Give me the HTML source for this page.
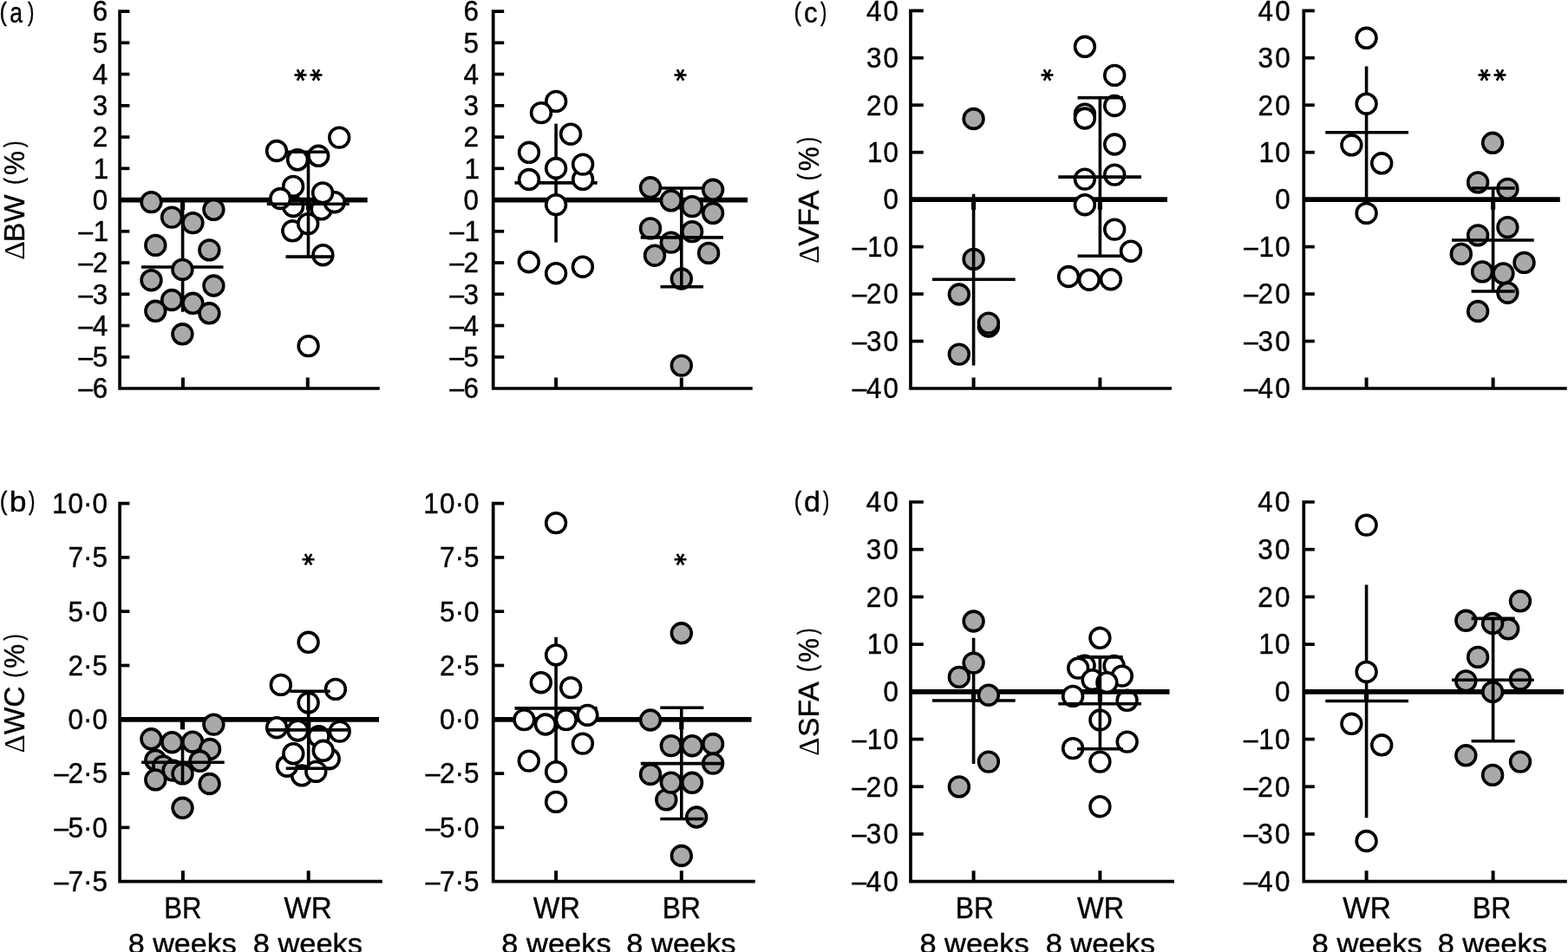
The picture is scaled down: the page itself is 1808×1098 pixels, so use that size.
<!DOCTYPE html>
<html lang="en"><head><meta charset="utf-8"><title>Figure</title>
<style>
html,body{margin:0;padding:0;background:#fff;}
body{width:1808px;height:1098px;overflow:hidden;}
svg{display:block;}
text{font-family:"Liberation Sans",sans-serif;fill:#000;stroke:#000;stroke-width:0.4px;}
.dl{font-family:"Liberation Serif",serif;stroke:none;}
.st{font-family:"DejaVu Sans","Liberation Sans",sans-serif;stroke-width:1.1px;}
.ln{stroke:#000;fill:none;}
.pt circle{stroke:#000;stroke-width:3.6;}
</style></head><body>
<svg width="1808" height="1098" viewBox="0 0 1808 1098">
<rect width="1808" height="1098" fill="#fff"/>
<g id="aL">
<g class="pt">
<circle cx="338.1" cy="238" r="11.4" fill="#fff"/>
<circle cx="370.6" cy="241.4" r="11.4" fill="#fff"/>
</g>
<g class="ln">
<line x1="138.1" y1="230.55" x2="423.7" y2="230.55" stroke-width="5.8"/>
<line x1="210.6" y1="230.55" x2="210.6" y2="242.15" stroke-width="5.2"/>
<line x1="355.5" y1="230.55" x2="355.5" y2="242.15" stroke-width="5.2"/>
</g>
<g class="ln">
<line x1="210.6" y1="231" x2="210.6" y2="359.7" stroke-width="3.6"/>
<line x1="163" y1="308" x2="257.5" y2="308" stroke-width="3.6"/>
</g>
<g class="pt">
<circle cx="174.5" cy="233.1" r="11.4" fill="#a9a9a9"/>
<circle cx="198.1" cy="250.6" r="11.4" fill="#a9a9a9"/>
<circle cx="222.4" cy="257.1" r="11.4" fill="#a9a9a9"/>
<circle cx="246.4" cy="241.8" r="11.4" fill="#a9a9a9"/>
<circle cx="179.3" cy="282.9" r="11.4" fill="#a9a9a9"/>
<circle cx="241.4" cy="288.4" r="11.4" fill="#a9a9a9"/>
<circle cx="210.4" cy="310.9" r="11.4" fill="#a9a9a9"/>
<circle cx="174.5" cy="323.2" r="11.4" fill="#a9a9a9"/>
<circle cx="246.4" cy="329.5" r="11.4" fill="#a9a9a9"/>
<circle cx="198.1" cy="346" r="11.4" fill="#a9a9a9"/>
<circle cx="222.4" cy="349.8" r="11.4" fill="#a9a9a9"/>
<circle cx="179.3" cy="358.8" r="11.4" fill="#a9a9a9"/>
<circle cx="241.4" cy="361.3" r="11.4" fill="#a9a9a9"/>
<circle cx="210.4" cy="385.3" r="11.4" fill="#a9a9a9"/>
</g>
<g class="pt">
<circle cx="391.2" cy="158.6" r="11.4" fill="#fff"/>
<circle cx="319" cy="174" r="11.4" fill="#fff"/>
<circle cx="343.1" cy="184.3" r="11.4" fill="#fff"/>
<circle cx="367.2" cy="179.8" r="11.4" fill="#fff"/>
<circle cx="338.1" cy="214.9" r="11.4" fill="#fff"/>
<circle cx="385.8" cy="233.2" r="11.4" fill="#fff"/>
<circle cx="372.1" cy="222.4" r="11.4" fill="#fff"/>
<circle cx="323.2" cy="229" r="11.4" fill="#fff"/>
<circle cx="337.3" cy="266.3" r="11.4" fill="#fff"/>
<circle cx="355.2" cy="258.1" r="11.4" fill="#fff"/>
<circle cx="372.4" cy="294.2" r="11.4" fill="#fff"/>
<circle cx="355.6" cy="399.1" r="11.4" fill="#fff"/>
</g>
<g class="ln">
<line x1="355.5" y1="175.2" x2="355.5" y2="296.1" stroke-width="3.6"/>
<line x1="307.8" y1="235.2" x2="402.8" y2="235.2" stroke-width="3.6"/>
<line x1="331.5" y1="175.2" x2="377.2" y2="175.2" stroke-width="3.6"/>
<line x1="329.5" y1="296.1" x2="383" y2="296.1" stroke-width="3.6"/>
</g>
<g class="ln">
<path d="M149.4 13.1 H138.1 V448 H437.8" stroke-width="3.7"/>
<line x1="138.1" y1="49.34" x2="149.4" y2="49.34" stroke-width="3.7"/>
<line x1="138.1" y1="85.58" x2="149.4" y2="85.58" stroke-width="3.7"/>
<line x1="138.1" y1="121.82" x2="149.4" y2="121.82" stroke-width="3.7"/>
<line x1="138.1" y1="158.07" x2="149.4" y2="158.07" stroke-width="3.7"/>
<line x1="138.1" y1="194.31" x2="149.4" y2="194.31" stroke-width="3.7"/>
<line x1="138.1" y1="230.55" x2="149.4" y2="230.55" stroke-width="3.7"/>
<line x1="138.1" y1="266.79" x2="149.4" y2="266.79" stroke-width="3.7"/>
<line x1="138.1" y1="303.03" x2="149.4" y2="303.03" stroke-width="3.7"/>
<line x1="138.1" y1="339.28" x2="149.4" y2="339.28" stroke-width="3.7"/>
<line x1="138.1" y1="375.52" x2="149.4" y2="375.52" stroke-width="3.7"/>
<line x1="138.1" y1="411.76" x2="149.4" y2="411.76" stroke-width="3.7"/>
<line x1="210.9" y1="448" x2="210.9" y2="435.5" stroke-width="4"/>
<line x1="354.8" y1="448" x2="354.8" y2="435.5" stroke-width="4"/>
</g>
<text font-size="32.6"><tspan x="106.69" y="24.4" textLength="17.51" lengthAdjust="spacingAndGlyphs">6</tspan></text>
<text font-size="32.6"><tspan x="106.69" y="60.64" textLength="17.51" lengthAdjust="spacingAndGlyphs">5</tspan></text>
<text font-size="32.6"><tspan x="106.69" y="96.88" textLength="17.51" lengthAdjust="spacingAndGlyphs">4</tspan></text>
<text font-size="32.6"><tspan x="106.69" y="133.12" textLength="17.51" lengthAdjust="spacingAndGlyphs">3</tspan></text>
<text font-size="32.6"><tspan x="106.69" y="169.37" textLength="17.51" lengthAdjust="spacingAndGlyphs">2</tspan></text>
<text font-size="32.6"><tspan x="107.69" y="205.61" textLength="17.51" lengthAdjust="spacingAndGlyphs">1</tspan></text>
<text font-size="32.6"><tspan x="106.69" y="241.85" textLength="17.51" lengthAdjust="spacingAndGlyphs">0</tspan></text>
<text font-size="32.6"><tspan x="88.58" y="280.09" textLength="19.99" lengthAdjust="spacingAndGlyphs">−</tspan><tspan x="107.69" y="278.09" textLength="17.51" lengthAdjust="spacingAndGlyphs">1</tspan></text>
<text font-size="32.6"><tspan x="88.58" y="316.33" textLength="19.99" lengthAdjust="spacingAndGlyphs">−</tspan><tspan x="106.69" y="314.33" textLength="17.51" lengthAdjust="spacingAndGlyphs">2</tspan></text>
<text font-size="32.6"><tspan x="88.58" y="352.58" textLength="19.99" lengthAdjust="spacingAndGlyphs">−</tspan><tspan x="106.69" y="350.58" textLength="17.51" lengthAdjust="spacingAndGlyphs">3</tspan></text>
<text font-size="32.6"><tspan x="88.58" y="388.82" textLength="19.99" lengthAdjust="spacingAndGlyphs">−</tspan><tspan x="106.69" y="386.82" textLength="17.51" lengthAdjust="spacingAndGlyphs">4</tspan></text>
<text font-size="32.6"><tspan x="88.58" y="425.06" textLength="19.99" lengthAdjust="spacingAndGlyphs">−</tspan><tspan x="106.69" y="423.06" textLength="17.51" lengthAdjust="spacingAndGlyphs">5</tspan></text>
<text font-size="32.6"><tspan x="88.58" y="461.3" textLength="19.99" lengthAdjust="spacingAndGlyphs">−</tspan><tspan x="106.69" y="459.3" textLength="17.51" lengthAdjust="spacingAndGlyphs">6</tspan></text>
<text transform="translate(0 25.9)"><tspan x="-0.38" y="-2.4" font-size="29.6" textLength="8.41" lengthAdjust="spacingAndGlyphs">(</tspan><tspan x="11.17" y="0" font-size="32.5" textLength="14.76" lengthAdjust="spacingAndGlyphs">a</tspan><tspan x="31.95" y="-2.4" font-size="29.6" textLength="7.4" lengthAdjust="spacingAndGlyphs">)</tspan></text>
<text transform="translate(27.9 0) rotate(-90)"><tspan class="dl" x="-299.66" y="0" font-size="33" textLength="21.8" lengthAdjust="spacingAndGlyphs">Δ</tspan><tspan x="-279.16" y="0" font-size="34" textLength="54.84" lengthAdjust="spacingAndGlyphs">BW</tspan><tspan x="-219" y="0" font-size="10"> </tspan><tspan x="-213.03" y="-2.3" font-size="29.6" textLength="8.05" lengthAdjust="spacingAndGlyphs">(</tspan><tspan x="-201.98" y="0" font-size="34" textLength="27.81" lengthAdjust="spacingAndGlyphs">%</tspan><tspan x="-170.1" y="-2.3" font-size="29.6" textLength="7.46" lengthAdjust="spacingAndGlyphs">)</tspan></text>
<text class="st" x="331.87 350.01" y="79.45" rotate="90" font-size="28">**</text>
</g>
<g id="aR">
<g class="ln">
<line x1="568.7" y1="230.55" x2="862" y2="230.55" stroke-width="5.8"/>
<line x1="641.1" y1="230.55" x2="641.1" y2="242.15" stroke-width="5.2"/>
<line x1="785.8" y1="230.55" x2="785.8" y2="242.15" stroke-width="5.2"/>
</g>
<g class="ln">
<line x1="641.1" y1="142.7" x2="641.1" y2="279.6" stroke-width="3.6"/>
<line x1="593.5" y1="210.9" x2="688.7" y2="210.9" stroke-width="3.6"/>
</g>
<g class="pt">
<circle cx="641.2" cy="116.9" r="11.4" fill="#fff"/>
<circle cx="624" cy="130.1" r="11.4" fill="#fff"/>
<circle cx="658.1" cy="154.7" r="11.4" fill="#fff"/>
<circle cx="610" cy="175.8" r="11.4" fill="#fff"/>
<circle cx="672.1" cy="206.9" r="11.4" fill="#fff"/>
<circle cx="672.1" cy="189.6" r="11.4" fill="#fff"/>
<circle cx="641.1" cy="194" r="11.4" fill="#fff"/>
<circle cx="610" cy="207" r="11.4" fill="#fff"/>
<circle cx="641.1" cy="236.1" r="11.4" fill="#fff"/>
<circle cx="609.8" cy="302.2" r="11.4" fill="#fff"/>
<circle cx="641.1" cy="315.2" r="11.4" fill="#fff"/>
<circle cx="671.9" cy="307.7" r="11.4" fill="#fff"/>
</g>
<g class="pt">
<circle cx="750" cy="216.3" r="11.4" fill="#a9a9a9"/>
<circle cx="822.1" cy="218.8" r="11.4" fill="#a9a9a9"/>
<circle cx="773.8" cy="231.3" r="11.4" fill="#a9a9a9"/>
<circle cx="798.1" cy="238.1" r="11.4" fill="#a9a9a9"/>
<circle cx="822.1" cy="245.8" r="11.4" fill="#a9a9a9"/>
<circle cx="750" cy="263.4" r="11.4" fill="#a9a9a9"/>
<circle cx="798.1" cy="267.1" r="11.4" fill="#a9a9a9"/>
<circle cx="773.8" cy="279.6" r="11.4" fill="#a9a9a9"/>
<circle cx="755" cy="294.7" r="11.4" fill="#a9a9a9"/>
<circle cx="817.1" cy="291.9" r="11.4" fill="#a9a9a9"/>
<circle cx="785.8" cy="321.5" r="11.4" fill="#a9a9a9"/>
<circle cx="785.8" cy="421.6" r="11.4" fill="#a9a9a9"/>
</g>
<g class="ln">
<line x1="785.8" y1="217" x2="785.8" y2="330.7" stroke-width="3.6"/>
<line x1="738.7" y1="273.9" x2="833.9" y2="273.9" stroke-width="3.6"/>
<line x1="761.5" y1="217" x2="811" y2="217" stroke-width="3.6"/>
<line x1="761.5" y1="330.7" x2="811" y2="330.7" stroke-width="3.6"/>
</g>
<g class="ln">
<path d="M581.2 13.1 H568.7 V448 H867.7" stroke-width="3.7"/>
<line x1="568.7" y1="49.34" x2="581.2" y2="49.34" stroke-width="3.7"/>
<line x1="568.7" y1="85.58" x2="581.2" y2="85.58" stroke-width="3.7"/>
<line x1="568.7" y1="121.82" x2="581.2" y2="121.82" stroke-width="3.7"/>
<line x1="568.7" y1="158.07" x2="581.2" y2="158.07" stroke-width="3.7"/>
<line x1="568.7" y1="194.31" x2="581.2" y2="194.31" stroke-width="3.7"/>
<line x1="568.7" y1="230.55" x2="581.2" y2="230.55" stroke-width="3.7"/>
<line x1="568.7" y1="266.79" x2="581.2" y2="266.79" stroke-width="3.7"/>
<line x1="568.7" y1="303.03" x2="581.2" y2="303.03" stroke-width="3.7"/>
<line x1="568.7" y1="339.28" x2="581.2" y2="339.28" stroke-width="3.7"/>
<line x1="568.7" y1="375.52" x2="581.2" y2="375.52" stroke-width="3.7"/>
<line x1="568.7" y1="411.76" x2="581.2" y2="411.76" stroke-width="3.7"/>
<line x1="641.1" y1="448" x2="641.1" y2="435.5" stroke-width="4"/>
<line x1="785.8" y1="448" x2="785.8" y2="435.5" stroke-width="4"/>
</g>
<text font-size="32.6"><tspan x="534.59" y="24.4" textLength="17.51" lengthAdjust="spacingAndGlyphs">6</tspan></text>
<text font-size="32.6"><tspan x="534.59" y="60.64" textLength="17.51" lengthAdjust="spacingAndGlyphs">5</tspan></text>
<text font-size="32.6"><tspan x="534.59" y="96.88" textLength="17.51" lengthAdjust="spacingAndGlyphs">4</tspan></text>
<text font-size="32.6"><tspan x="534.59" y="133.12" textLength="17.51" lengthAdjust="spacingAndGlyphs">3</tspan></text>
<text font-size="32.6"><tspan x="534.59" y="169.37" textLength="17.51" lengthAdjust="spacingAndGlyphs">2</tspan></text>
<text font-size="32.6"><tspan x="535.59" y="205.61" textLength="17.51" lengthAdjust="spacingAndGlyphs">1</tspan></text>
<text font-size="32.6"><tspan x="534.59" y="241.85" textLength="17.51" lengthAdjust="spacingAndGlyphs">0</tspan></text>
<text font-size="32.6"><tspan x="516.48" y="280.09" textLength="19.99" lengthAdjust="spacingAndGlyphs">−</tspan><tspan x="535.59" y="278.09" textLength="17.51" lengthAdjust="spacingAndGlyphs">1</tspan></text>
<text font-size="32.6"><tspan x="516.48" y="316.33" textLength="19.99" lengthAdjust="spacingAndGlyphs">−</tspan><tspan x="534.59" y="314.33" textLength="17.51" lengthAdjust="spacingAndGlyphs">2</tspan></text>
<text font-size="32.6"><tspan x="516.48" y="352.58" textLength="19.99" lengthAdjust="spacingAndGlyphs">−</tspan><tspan x="534.59" y="350.58" textLength="17.51" lengthAdjust="spacingAndGlyphs">3</tspan></text>
<text font-size="32.6"><tspan x="516.48" y="388.82" textLength="19.99" lengthAdjust="spacingAndGlyphs">−</tspan><tspan x="534.59" y="386.82" textLength="17.51" lengthAdjust="spacingAndGlyphs">4</tspan></text>
<text font-size="32.6"><tspan x="516.48" y="425.06" textLength="19.99" lengthAdjust="spacingAndGlyphs">−</tspan><tspan x="534.59" y="423.06" textLength="17.51" lengthAdjust="spacingAndGlyphs">5</tspan></text>
<text font-size="32.6"><tspan x="516.48" y="461.3" textLength="19.99" lengthAdjust="spacingAndGlyphs">−</tspan><tspan x="534.59" y="459.3" textLength="17.51" lengthAdjust="spacingAndGlyphs">6</tspan></text>
<text class="st" x="770.04" y="79.45" rotate="90" font-size="28">*</text>
</g>
<g id="cL">
<g class="ln">
<line x1="1050" y1="230.15" x2="1346" y2="230.15" stroke-width="5.8"/>
<line x1="1122.6" y1="230.15" x2="1122.6" y2="241.75" stroke-width="5.2"/>
<line x1="1268.4" y1="230.15" x2="1268.4" y2="241.75" stroke-width="5.2"/>
</g>
<g class="pt">
<circle cx="1122.6" cy="137" r="11.4" fill="#a9a9a9"/>
<circle cx="1122.6" cy="298.9" r="11.4" fill="#a9a9a9"/>
<circle cx="1105.9" cy="339.5" r="11.4" fill="#a9a9a9"/>
<circle cx="1139.9" cy="376.5" r="11.4" fill="#a9a9a9"/>
<circle cx="1139.9" cy="372.6" r="11.4" fill="#a9a9a9"/>
<circle cx="1105.9" cy="408.6" r="11.4" fill="#a9a9a9"/>
</g>
<g class="ln">
<line x1="1122.6" y1="223.8" x2="1122.6" y2="421.6" stroke-width="3.6"/>
<line x1="1075" y1="322.2" x2="1170.7" y2="322.2" stroke-width="3.6"/>
</g>
<g class="pt">
<circle cx="1250.9" cy="53.8" r="11.4" fill="#fff"/>
<circle cx="1285.2" cy="86.9" r="11.4" fill="#fff"/>
<circle cx="1285.2" cy="122" r="11.4" fill="#fff"/>
<circle cx="1250.9" cy="131.6" r="11.4" fill="#fff"/>
<circle cx="1250.9" cy="136.5" r="11.4" fill="#fff"/>
<circle cx="1285.2" cy="166.5" r="11.4" fill="#fff"/>
<circle cx="1250.9" cy="206.6" r="11.4" fill="#fff"/>
<circle cx="1285.2" cy="201.6" r="11.4" fill="#fff"/>
<circle cx="1250.9" cy="236.2" r="11.4" fill="#fff"/>
<circle cx="1285.2" cy="264.6" r="11.4" fill="#fff"/>
<circle cx="1304" cy="289.7" r="11.4" fill="#fff"/>
<circle cx="1232.1" cy="319" r="11.4" fill="#fff"/>
<circle cx="1255.9" cy="322.7" r="11.4" fill="#fff"/>
<circle cx="1280.9" cy="322.2" r="11.4" fill="#fff"/>
</g>
<g class="ln">
<line x1="1268.4" y1="112.7" x2="1268.4" y2="295.2" stroke-width="3.6"/>
<line x1="1220.3" y1="204.1" x2="1316" y2="204.1" stroke-width="3.6"/>
<line x1="1242.6" y1="112.7" x2="1295" y2="112.7" stroke-width="3.6"/>
<line x1="1242.6" y1="295.2" x2="1295" y2="295.2" stroke-width="3.6"/>
</g>
<g class="ln">
<path d="M1064.8 12.3 H1050 V448 H1351" stroke-width="3.7"/>
<line x1="1050" y1="66.76" x2="1064.8" y2="66.76" stroke-width="3.7"/>
<line x1="1050" y1="121.22" x2="1064.8" y2="121.22" stroke-width="3.7"/>
<line x1="1050" y1="175.69" x2="1064.8" y2="175.69" stroke-width="3.7"/>
<line x1="1050" y1="230.15" x2="1064.8" y2="230.15" stroke-width="3.7"/>
<line x1="1050" y1="284.61" x2="1064.8" y2="284.61" stroke-width="3.7"/>
<line x1="1050" y1="339.07" x2="1064.8" y2="339.07" stroke-width="3.7"/>
<line x1="1050" y1="393.54" x2="1064.8" y2="393.54" stroke-width="3.7"/>
<line x1="1122.6" y1="448" x2="1122.6" y2="435.5" stroke-width="4"/>
<line x1="1268.4" y1="448" x2="1268.4" y2="435.5" stroke-width="4"/>
</g>
<text font-size="32.6"><tspan x="998.89" y="23.6" textLength="17.51" lengthAdjust="spacingAndGlyphs">4</tspan><tspan x="1018.59" y="23.6" textLength="17.51" lengthAdjust="spacingAndGlyphs">0</tspan></text>
<text font-size="32.6"><tspan x="998.89" y="78.06" textLength="17.51" lengthAdjust="spacingAndGlyphs">3</tspan><tspan x="1018.59" y="78.06" textLength="17.51" lengthAdjust="spacingAndGlyphs">0</tspan></text>
<text font-size="32.6"><tspan x="998.89" y="132.53" textLength="17.51" lengthAdjust="spacingAndGlyphs">2</tspan><tspan x="1018.59" y="132.53" textLength="17.51" lengthAdjust="spacingAndGlyphs">0</tspan></text>
<text font-size="32.6"><tspan x="999.89" y="186.99" textLength="17.51" lengthAdjust="spacingAndGlyphs">1</tspan><tspan x="1018.59" y="186.99" textLength="17.51" lengthAdjust="spacingAndGlyphs">0</tspan></text>
<text font-size="32.6"><tspan x="1018.59" y="241.45" textLength="17.51" lengthAdjust="spacingAndGlyphs">0</tspan></text>
<text font-size="32.6"><tspan x="980.78" y="297.91" textLength="19.99" lengthAdjust="spacingAndGlyphs">−</tspan><tspan x="999.89" y="295.91" textLength="17.51" lengthAdjust="spacingAndGlyphs">1</tspan><tspan x="1018.59" y="295.91" textLength="17.51" lengthAdjust="spacingAndGlyphs">0</tspan></text>
<text font-size="32.6"><tspan x="980.78" y="352.38" textLength="19.99" lengthAdjust="spacingAndGlyphs">−</tspan><tspan x="998.89" y="350.38" textLength="17.51" lengthAdjust="spacingAndGlyphs">2</tspan><tspan x="1018.59" y="350.38" textLength="17.51" lengthAdjust="spacingAndGlyphs">0</tspan></text>
<text font-size="32.6"><tspan x="980.78" y="406.84" textLength="19.99" lengthAdjust="spacingAndGlyphs">−</tspan><tspan x="998.89" y="404.84" textLength="17.51" lengthAdjust="spacingAndGlyphs">3</tspan><tspan x="1018.59" y="404.84" textLength="17.51" lengthAdjust="spacingAndGlyphs">0</tspan></text>
<text font-size="32.6"><tspan x="980.78" y="461.3" textLength="19.99" lengthAdjust="spacingAndGlyphs">−</tspan><tspan x="998.89" y="459.3" textLength="17.51" lengthAdjust="spacingAndGlyphs">4</tspan><tspan x="1018.59" y="459.3" textLength="17.51" lengthAdjust="spacingAndGlyphs">0</tspan></text>
<text transform="translate(0 26)"><tspan x="915.62" y="-2.4" font-size="29.6" textLength="8.41" lengthAdjust="spacingAndGlyphs">(</tspan><tspan x="926.93" y="0" font-size="32.5" textLength="15.56" lengthAdjust="spacingAndGlyphs">c</tspan><tspan x="946" y="-2.4" font-size="29.6" textLength="7.34" lengthAdjust="spacingAndGlyphs">)</tspan></text>
<text transform="translate(943.6 0) rotate(-90)"><tspan class="dl" x="-304.12" y="0" font-size="33" textLength="21.02" lengthAdjust="spacingAndGlyphs">Δ</tspan><tspan x="-283.8" y="0" font-size="34" textLength="64.33" lengthAdjust="spacingAndGlyphs">VFA</tspan><tspan x="-214.3" y="0" font-size="10"> </tspan><tspan x="-208.33" y="-2.3" font-size="29.6" textLength="8.05" lengthAdjust="spacingAndGlyphs">(</tspan><tspan x="-197.28" y="0" font-size="34" textLength="27.81" lengthAdjust="spacingAndGlyphs">%</tspan><tspan x="-165.4" y="-2.3" font-size="29.6" textLength="7.46" lengthAdjust="spacingAndGlyphs">)</tspan></text>
<text class="st" x="1192.94" y="79.45" rotate="90" font-size="28">*</text>
</g>
<g id="cR">
<g class="ln">
<line x1="1503.3" y1="230.15" x2="1798.8" y2="230.15" stroke-width="5.8"/>
<line x1="1575.6" y1="230.15" x2="1575.6" y2="241.75" stroke-width="5.2"/>
<line x1="1721.6" y1="230.15" x2="1721.6" y2="241.75" stroke-width="5.2"/>
</g>
<g class="ln">
<line x1="1575.6" y1="76.4" x2="1575.6" y2="230" stroke-width="3.6"/>
<line x1="1528.3" y1="152.8" x2="1624" y2="152.8" stroke-width="3.6"/>
</g>
<g class="pt">
<circle cx="1575.6" cy="43.8" r="11.4" fill="#fff"/>
<circle cx="1575.6" cy="119.7" r="11.4" fill="#fff"/>
<circle cx="1558.4" cy="167.3" r="11.4" fill="#fff"/>
<circle cx="1593.2" cy="188.3" r="11.4" fill="#fff"/>
<circle cx="1575.6" cy="245.9" r="11.4" fill="#fff"/>
</g>
<g class="pt">
<circle cx="1721.1" cy="164.8" r="11.4" fill="#a9a9a9"/>
<circle cx="1704.1" cy="210.4" r="11.4" fill="#a9a9a9"/>
<circle cx="1738.4" cy="217.9" r="11.4" fill="#a9a9a9"/>
<circle cx="1738.4" cy="262.1" r="11.4" fill="#a9a9a9"/>
<circle cx="1704.1" cy="271.4" r="11.4" fill="#a9a9a9"/>
<circle cx="1684.8" cy="292.9" r="11.4" fill="#a9a9a9"/>
<circle cx="1757.5" cy="302.9" r="11.4" fill="#a9a9a9"/>
<circle cx="1709.1" cy="313.4" r="11.4" fill="#a9a9a9"/>
<circle cx="1738.4" cy="337.7" r="11.4" fill="#a9a9a9"/>
<circle cx="1733.4" cy="315.4" r="11.4" fill="#a9a9a9"/>
<circle cx="1704.1" cy="359" r="11.4" fill="#a9a9a9"/>
</g>
<g class="ln">
<line x1="1721.6" y1="217" x2="1721.6" y2="336" stroke-width="3.6"/>
<line x1="1674" y1="277" x2="1768.7" y2="277" stroke-width="3.6"/>
<line x1="1696.6" y1="217" x2="1746.7" y2="217" stroke-width="3.6"/>
<line x1="1696.6" y1="336" x2="1746.7" y2="336" stroke-width="3.6"/>
</g>
<g class="ln">
<path d="M1515.8 12.3 H1503.3 V448 H1806.8" stroke-width="3.7"/>
<line x1="1503.3" y1="66.76" x2="1515.8" y2="66.76" stroke-width="3.7"/>
<line x1="1503.3" y1="121.22" x2="1515.8" y2="121.22" stroke-width="3.7"/>
<line x1="1503.3" y1="175.69" x2="1515.8" y2="175.69" stroke-width="3.7"/>
<line x1="1503.3" y1="230.15" x2="1515.8" y2="230.15" stroke-width="3.7"/>
<line x1="1503.3" y1="284.61" x2="1515.8" y2="284.61" stroke-width="3.7"/>
<line x1="1503.3" y1="339.07" x2="1515.8" y2="339.07" stroke-width="3.7"/>
<line x1="1503.3" y1="393.54" x2="1515.8" y2="393.54" stroke-width="3.7"/>
<line x1="1575.6" y1="448" x2="1575.6" y2="435.5" stroke-width="4"/>
<line x1="1721.6" y1="448" x2="1721.6" y2="435.5" stroke-width="4"/>
</g>
<text font-size="32.6"><tspan x="1450.49" y="23.6" textLength="17.51" lengthAdjust="spacingAndGlyphs">4</tspan><tspan x="1470.19" y="23.6" textLength="17.51" lengthAdjust="spacingAndGlyphs">0</tspan></text>
<text font-size="32.6"><tspan x="1450.49" y="78.06" textLength="17.51" lengthAdjust="spacingAndGlyphs">3</tspan><tspan x="1470.19" y="78.06" textLength="17.51" lengthAdjust="spacingAndGlyphs">0</tspan></text>
<text font-size="32.6"><tspan x="1450.49" y="132.53" textLength="17.51" lengthAdjust="spacingAndGlyphs">2</tspan><tspan x="1470.19" y="132.53" textLength="17.51" lengthAdjust="spacingAndGlyphs">0</tspan></text>
<text font-size="32.6"><tspan x="1451.49" y="186.99" textLength="17.51" lengthAdjust="spacingAndGlyphs">1</tspan><tspan x="1470.19" y="186.99" textLength="17.51" lengthAdjust="spacingAndGlyphs">0</tspan></text>
<text font-size="32.6"><tspan x="1470.19" y="241.45" textLength="17.51" lengthAdjust="spacingAndGlyphs">0</tspan></text>
<text font-size="32.6"><tspan x="1432.38" y="297.91" textLength="19.99" lengthAdjust="spacingAndGlyphs">−</tspan><tspan x="1451.49" y="295.91" textLength="17.51" lengthAdjust="spacingAndGlyphs">1</tspan><tspan x="1470.19" y="295.91" textLength="17.51" lengthAdjust="spacingAndGlyphs">0</tspan></text>
<text font-size="32.6"><tspan x="1432.38" y="352.38" textLength="19.99" lengthAdjust="spacingAndGlyphs">−</tspan><tspan x="1450.49" y="350.38" textLength="17.51" lengthAdjust="spacingAndGlyphs">2</tspan><tspan x="1470.19" y="350.38" textLength="17.51" lengthAdjust="spacingAndGlyphs">0</tspan></text>
<text font-size="32.6"><tspan x="1432.38" y="406.84" textLength="19.99" lengthAdjust="spacingAndGlyphs">−</tspan><tspan x="1450.49" y="404.84" textLength="17.51" lengthAdjust="spacingAndGlyphs">3</tspan><tspan x="1470.19" y="404.84" textLength="17.51" lengthAdjust="spacingAndGlyphs">0</tspan></text>
<text font-size="32.6"><tspan x="1432.38" y="461.3" textLength="19.99" lengthAdjust="spacingAndGlyphs">−</tspan><tspan x="1450.49" y="459.3" textLength="17.51" lengthAdjust="spacingAndGlyphs">4</tspan><tspan x="1470.19" y="459.3" textLength="17.51" lengthAdjust="spacingAndGlyphs">0</tspan></text>
<text class="st" x="1696.87 1715.02" y="79.45" rotate="90" font-size="28">**</text>
</g>
<g id="bL">
<g class="ln">
<line x1="138.1" y1="829.8" x2="437" y2="829.8" stroke-width="5.8"/>
<line x1="210.5" y1="829.8" x2="210.5" y2="841.4" stroke-width="5.2"/>
<line x1="355.7" y1="829.8" x2="355.7" y2="841.4" stroke-width="5.2"/>
</g>
<g class="pt">
<circle cx="246.4" cy="835.6" r="11.4" fill="#a9a9a9"/>
<circle cx="174.4" cy="852.3" r="11.4" fill="#a9a9a9"/>
<circle cx="198.3" cy="856.2" r="11.4" fill="#a9a9a9"/>
<circle cx="222.1" cy="855.7" r="11.4" fill="#a9a9a9"/>
<circle cx="242.1" cy="864" r="11.4" fill="#a9a9a9"/>
<circle cx="179.3" cy="876.8" r="11.4" fill="#a9a9a9"/>
<circle cx="188.3" cy="883.6" r="11.4" fill="#a9a9a9"/>
<circle cx="230.5" cy="877.8" r="11.4" fill="#a9a9a9"/>
<circle cx="199.6" cy="888.6" r="11.4" fill="#a9a9a9"/>
<circle cx="210.5" cy="892.4" r="11.4" fill="#a9a9a9"/>
<circle cx="179.3" cy="899.4" r="11.4" fill="#a9a9a9"/>
<circle cx="241.6" cy="904" r="11.4" fill="#a9a9a9"/>
<circle cx="210.5" cy="931.8" r="11.4" fill="#a9a9a9"/>
</g>
<g class="ln">
<line x1="210.5" y1="855" x2="210.5" y2="903.5" stroke-width="3.6"/>
<line x1="163.1" y1="879.3" x2="258.7" y2="879.3" stroke-width="3.6"/>
</g>
<g class="pt">
<circle cx="355.6" cy="740.8" r="11.4" fill="#fff"/>
<circle cx="323.8" cy="789.9" r="11.4" fill="#fff"/>
<circle cx="386.9" cy="794.9" r="11.4" fill="#fff"/>
<circle cx="355.6" cy="810.5" r="11.4" fill="#fff"/>
<circle cx="319.1" cy="839.2" r="11.4" fill="#fff"/>
<circle cx="343.4" cy="842.5" r="11.4" fill="#fff"/>
<circle cx="391.7" cy="843.6" r="11.4" fill="#fff"/>
<circle cx="367.6" cy="849.3" r="11.4" fill="#fff"/>
<circle cx="348.1" cy="894.4" r="11.4" fill="#fff"/>
<circle cx="331" cy="883.7" r="11.4" fill="#fff"/>
<circle cx="338.3" cy="869.2" r="11.4" fill="#fff"/>
<circle cx="379.7" cy="875.2" r="11.4" fill="#fff"/>
<circle cx="372.7" cy="865.8" r="11.4" fill="#fff"/>
<circle cx="364.3" cy="889.9" r="11.4" fill="#fff"/>
</g>
<g class="ln">
<line x1="355.7" y1="797.2" x2="355.7" y2="886.2" stroke-width="3.6"/>
<line x1="308.5" y1="841.9" x2="401.5" y2="841.9" stroke-width="3.6"/>
<line x1="334.3" y1="797.2" x2="380.7" y2="797.2" stroke-width="3.6"/>
<line x1="329.8" y1="886.2" x2="383" y2="886.2" stroke-width="3.6"/>
</g>
<g class="ln">
<path d="M149.4 580.6 H138.1 V1016.7 H440.8" stroke-width="3.7"/>
<line x1="138.1" y1="642.9" x2="149.4" y2="642.9" stroke-width="3.7"/>
<line x1="138.1" y1="705.2" x2="149.4" y2="705.2" stroke-width="3.7"/>
<line x1="138.1" y1="767.5" x2="149.4" y2="767.5" stroke-width="3.7"/>
<line x1="138.1" y1="829.8" x2="149.4" y2="829.8" stroke-width="3.7"/>
<line x1="138.1" y1="892.1" x2="149.4" y2="892.1" stroke-width="3.7"/>
<line x1="138.1" y1="954.4" x2="149.4" y2="954.4" stroke-width="3.7"/>
<line x1="210.9" y1="1016.7" x2="210.9" y2="1004.2" stroke-width="4"/>
<line x1="355.7" y1="1016.7" x2="355.7" y2="1004.2" stroke-width="4"/>
</g>
<text font-size="32.6"><tspan x="59.89" y="591.9" textLength="17.51" lengthAdjust="spacingAndGlyphs">1</tspan><tspan x="78.59" y="591.9" textLength="17.51" lengthAdjust="spacingAndGlyphs">0</tspan><tspan x="96.11" y="590.9" textLength="10.49" lengthAdjust="spacingAndGlyphs">·</tspan><tspan x="106.59" y="591.9" textLength="17.51" lengthAdjust="spacingAndGlyphs">0</tspan></text>
<text font-size="32.6"><tspan x="78.59" y="654.2" textLength="17.51" lengthAdjust="spacingAndGlyphs">7</tspan><tspan x="96.11" y="653.2" textLength="10.49" lengthAdjust="spacingAndGlyphs">·</tspan><tspan x="106.59" y="654.2" textLength="17.51" lengthAdjust="spacingAndGlyphs">5</tspan></text>
<text font-size="32.6"><tspan x="78.59" y="716.5" textLength="17.51" lengthAdjust="spacingAndGlyphs">5</tspan><tspan x="96.11" y="715.5" textLength="10.49" lengthAdjust="spacingAndGlyphs">·</tspan><tspan x="106.59" y="716.5" textLength="17.51" lengthAdjust="spacingAndGlyphs">0</tspan></text>
<text font-size="32.6"><tspan x="78.59" y="778.8" textLength="17.51" lengthAdjust="spacingAndGlyphs">2</tspan><tspan x="96.11" y="777.8" textLength="10.49" lengthAdjust="spacingAndGlyphs">·</tspan><tspan x="106.59" y="778.8" textLength="17.51" lengthAdjust="spacingAndGlyphs">5</tspan></text>
<text font-size="32.6"><tspan x="78.59" y="841.1" textLength="17.51" lengthAdjust="spacingAndGlyphs">0</tspan><tspan x="96.11" y="840.1" textLength="10.49" lengthAdjust="spacingAndGlyphs">·</tspan><tspan x="106.59" y="841.1" textLength="17.51" lengthAdjust="spacingAndGlyphs">0</tspan></text>
<text font-size="32.6"><tspan x="60.48" y="905.4" textLength="19.99" lengthAdjust="spacingAndGlyphs">−</tspan><tspan x="78.59" y="903.4" textLength="17.51" lengthAdjust="spacingAndGlyphs">2</tspan><tspan x="96.11" y="902.4" textLength="10.49" lengthAdjust="spacingAndGlyphs">·</tspan><tspan x="106.59" y="903.4" textLength="17.51" lengthAdjust="spacingAndGlyphs">5</tspan></text>
<text font-size="32.6"><tspan x="60.48" y="967.7" textLength="19.99" lengthAdjust="spacingAndGlyphs">−</tspan><tspan x="78.59" y="965.7" textLength="17.51" lengthAdjust="spacingAndGlyphs">5</tspan><tspan x="96.11" y="964.7" textLength="10.49" lengthAdjust="spacingAndGlyphs">·</tspan><tspan x="106.59" y="965.7" textLength="17.51" lengthAdjust="spacingAndGlyphs">0</tspan></text>
<text font-size="32.6"><tspan x="60.48" y="1030" textLength="19.99" lengthAdjust="spacingAndGlyphs">−</tspan><tspan x="78.59" y="1028" textLength="17.51" lengthAdjust="spacingAndGlyphs">7</tspan><tspan x="96.11" y="1027" textLength="10.49" lengthAdjust="spacingAndGlyphs">·</tspan><tspan x="106.59" y="1028" textLength="17.51" lengthAdjust="spacingAndGlyphs">5</tspan></text>
<text transform="translate(0 590.1)"><tspan x="-0.32" y="-2.4" font-size="29.6" textLength="8.64" lengthAdjust="spacingAndGlyphs">(</tspan><tspan x="10.78" y="0" font-size="32.5" textLength="19.76" lengthAdjust="spacingAndGlyphs">b</tspan><tspan x="32.9" y="-2.4" font-size="29.6" textLength="7.46" lengthAdjust="spacingAndGlyphs">)</tspan></text>
<text transform="translate(27.8 0) rotate(-90)"><tspan class="dl" x="-868.53" y="0" font-size="33" textLength="21.13" lengthAdjust="spacingAndGlyphs">Δ</tspan><tspan x="-847.3" y="0" font-size="34" textLength="55.76" lengthAdjust="spacingAndGlyphs">WC</tspan><tspan x="-787.7" y="0" font-size="10"> </tspan><tspan x="-781.73" y="-2.3" font-size="29.6" textLength="8.05" lengthAdjust="spacingAndGlyphs">(</tspan><tspan x="-770.68" y="0" font-size="34" textLength="27.81" lengthAdjust="spacingAndGlyphs">%</tspan><tspan x="-738.8" y="-2.3" font-size="29.6" textLength="7.46" lengthAdjust="spacingAndGlyphs">)</tspan></text>
<text class="st" x="341.04" y="638.2" rotate="90" font-size="28">*</text>
<text transform="translate(189.21 1059) scale(0.9 1)" font-size="34.5">BR</text>
<text transform="translate(147.73 1099.6) scale(1.04 1)" font-size="32.8">8 weeks</text>
<text transform="translate(327.5 1059) scale(0.96 1)" font-size="34.5">WR</text>
<text transform="translate(291.72 1099.6) scale(1.05 1)" font-size="32.8">8 weeks</text>
</g>
<g id="bR">
<g class="ln">
<line x1="568.7" y1="829.8" x2="866.5" y2="829.8" stroke-width="5.8"/>
<line x1="641.1" y1="829.8" x2="641.1" y2="841.4" stroke-width="5.2"/>
<line x1="785.8" y1="829.8" x2="785.8" y2="841.4" stroke-width="5.2"/>
</g>
<g class="ln">
<line x1="641.1" y1="734.8" x2="641.1" y2="896" stroke-width="3.6"/>
<line x1="593.5" y1="816.9" x2="688.7" y2="816.9" stroke-width="3.6"/>
</g>
<g class="pt">
<circle cx="641.1" cy="603.1" r="11.4" fill="#fff"/>
<circle cx="641.1" cy="755.4" r="11.4" fill="#fff"/>
<circle cx="623.8" cy="787.2" r="11.4" fill="#fff"/>
<circle cx="658.2" cy="793.1" r="11.4" fill="#fff"/>
<circle cx="604.4" cy="830.1" r="11.4" fill="#fff"/>
<circle cx="628.9" cy="835.5" r="11.4" fill="#fff"/>
<circle cx="652.8" cy="830.1" r="11.4" fill="#fff"/>
<circle cx="677.4" cy="824.9" r="11.4" fill="#fff"/>
<circle cx="671.9" cy="857.6" r="11.4" fill="#fff"/>
<circle cx="609.8" cy="877.6" r="11.4" fill="#fff"/>
<circle cx="641.1" cy="890.1" r="11.4" fill="#fff"/>
<circle cx="641.1" cy="924.9" r="11.4" fill="#fff"/>
</g>
<g class="pt">
<circle cx="785.8" cy="730.3" r="11.4" fill="#a9a9a9"/>
<circle cx="750" cy="830.5" r="11.4" fill="#a9a9a9"/>
<circle cx="773.8" cy="860.1" r="11.4" fill="#a9a9a9"/>
<circle cx="798.1" cy="860.2" r="11.4" fill="#a9a9a9"/>
<circle cx="822.1" cy="858" r="11.4" fill="#a9a9a9"/>
<circle cx="822.1" cy="880.6" r="11.4" fill="#a9a9a9"/>
<circle cx="750" cy="893" r="11.4" fill="#a9a9a9"/>
<circle cx="768.3" cy="922.4" r="11.4" fill="#a9a9a9"/>
<circle cx="773.8" cy="902.6" r="11.4" fill="#a9a9a9"/>
<circle cx="798.1" cy="902.8" r="11.4" fill="#a9a9a9"/>
<circle cx="803.1" cy="942.5" r="11.4" fill="#a9a9a9"/>
<circle cx="785.8" cy="987" r="11.4" fill="#a9a9a9"/>
</g>
<g class="ln">
<line x1="785.8" y1="816.2" x2="785.8" y2="944.5" stroke-width="3.6"/>
<line x1="738.8" y1="880.6" x2="834" y2="880.6" stroke-width="3.6"/>
<line x1="761.3" y1="816.2" x2="811.4" y2="816.2" stroke-width="3.6"/>
<line x1="761.3" y1="944.5" x2="811.4" y2="944.5" stroke-width="3.6"/>
</g>
<g class="ln">
<path d="M581.2 580.6 H568.7 V1016.7 H870.7" stroke-width="3.7"/>
<line x1="568.7" y1="642.9" x2="581.2" y2="642.9" stroke-width="3.7"/>
<line x1="568.7" y1="705.2" x2="581.2" y2="705.2" stroke-width="3.7"/>
<line x1="568.7" y1="767.5" x2="581.2" y2="767.5" stroke-width="3.7"/>
<line x1="568.7" y1="829.8" x2="581.2" y2="829.8" stroke-width="3.7"/>
<line x1="568.7" y1="892.1" x2="581.2" y2="892.1" stroke-width="3.7"/>
<line x1="568.7" y1="954.4" x2="581.2" y2="954.4" stroke-width="3.7"/>
<line x1="641.1" y1="1016.7" x2="641.1" y2="1004.2" stroke-width="4"/>
<line x1="785.8" y1="1016.7" x2="785.8" y2="1004.2" stroke-width="4"/>
</g>
<text font-size="32.6"><tspan x="488.29" y="591.9" textLength="17.51" lengthAdjust="spacingAndGlyphs">1</tspan><tspan x="506.99" y="591.9" textLength="17.51" lengthAdjust="spacingAndGlyphs">0</tspan><tspan x="524.51" y="590.9" textLength="10.49" lengthAdjust="spacingAndGlyphs">·</tspan><tspan x="534.99" y="591.9" textLength="17.51" lengthAdjust="spacingAndGlyphs">0</tspan></text>
<text font-size="32.6"><tspan x="506.99" y="654.2" textLength="17.51" lengthAdjust="spacingAndGlyphs">7</tspan><tspan x="524.51" y="653.2" textLength="10.49" lengthAdjust="spacingAndGlyphs">·</tspan><tspan x="534.99" y="654.2" textLength="17.51" lengthAdjust="spacingAndGlyphs">5</tspan></text>
<text font-size="32.6"><tspan x="506.99" y="716.5" textLength="17.51" lengthAdjust="spacingAndGlyphs">5</tspan><tspan x="524.51" y="715.5" textLength="10.49" lengthAdjust="spacingAndGlyphs">·</tspan><tspan x="534.99" y="716.5" textLength="17.51" lengthAdjust="spacingAndGlyphs">0</tspan></text>
<text font-size="32.6"><tspan x="506.99" y="778.8" textLength="17.51" lengthAdjust="spacingAndGlyphs">2</tspan><tspan x="524.51" y="777.8" textLength="10.49" lengthAdjust="spacingAndGlyphs">·</tspan><tspan x="534.99" y="778.8" textLength="17.51" lengthAdjust="spacingAndGlyphs">5</tspan></text>
<text font-size="32.6"><tspan x="506.99" y="841.1" textLength="17.51" lengthAdjust="spacingAndGlyphs">0</tspan><tspan x="524.51" y="840.1" textLength="10.49" lengthAdjust="spacingAndGlyphs">·</tspan><tspan x="534.99" y="841.1" textLength="17.51" lengthAdjust="spacingAndGlyphs">0</tspan></text>
<text font-size="32.6"><tspan x="488.88" y="905.4" textLength="19.99" lengthAdjust="spacingAndGlyphs">−</tspan><tspan x="506.99" y="903.4" textLength="17.51" lengthAdjust="spacingAndGlyphs">2</tspan><tspan x="524.51" y="902.4" textLength="10.49" lengthAdjust="spacingAndGlyphs">·</tspan><tspan x="534.99" y="903.4" textLength="17.51" lengthAdjust="spacingAndGlyphs">5</tspan></text>
<text font-size="32.6"><tspan x="488.88" y="967.7" textLength="19.99" lengthAdjust="spacingAndGlyphs">−</tspan><tspan x="506.99" y="965.7" textLength="17.51" lengthAdjust="spacingAndGlyphs">5</tspan><tspan x="524.51" y="964.7" textLength="10.49" lengthAdjust="spacingAndGlyphs">·</tspan><tspan x="534.99" y="965.7" textLength="17.51" lengthAdjust="spacingAndGlyphs">0</tspan></text>
<text font-size="32.6"><tspan x="488.88" y="1030" textLength="19.99" lengthAdjust="spacingAndGlyphs">−</tspan><tspan x="506.99" y="1028" textLength="17.51" lengthAdjust="spacingAndGlyphs">7</tspan><tspan x="524.51" y="1027" textLength="10.49" lengthAdjust="spacingAndGlyphs">·</tspan><tspan x="534.99" y="1028" textLength="17.51" lengthAdjust="spacingAndGlyphs">5</tspan></text>
<text class="st" x="770.04" y="638.2" rotate="90" font-size="28">*</text>
<text transform="translate(614.8 1059) scale(0.94 1)" font-size="34.5">WR</text>
<text transform="translate(578.33 1099.6) scale(1.05 1)" font-size="32.8">8 weeks</text>
<text transform="translate(763.77 1059) scale(0.92 1)" font-size="34.5">BR</text>
<text transform="translate(722.32 1099.6) scale(1.05 1)" font-size="32.8">8 weeks</text>
</g>
<g id="dL">
<g class="pt">
<circle cx="1299.6" cy="807.8" r="11.4" fill="#fff"/>
</g>
<g class="ln">
<line x1="1050" y1="797.85" x2="1348.5" y2="797.85" stroke-width="5.8"/>
<line x1="1122.6" y1="797.85" x2="1122.6" y2="809.45" stroke-width="5.2"/>
<line x1="1268.4" y1="797.85" x2="1268.4" y2="809.45" stroke-width="5.2"/>
</g>
<g class="ln">
<line x1="1122.6" y1="735.8" x2="1122.6" y2="881.1" stroke-width="3.6"/>
<line x1="1075" y1="808" x2="1170.7" y2="808" stroke-width="3.6"/>
</g>
<g class="pt">
<circle cx="1122.6" cy="716.5" r="11.4" fill="#a9a9a9"/>
<circle cx="1122.6" cy="764.6" r="11.4" fill="#a9a9a9"/>
<circle cx="1105.9" cy="780.9" r="11.4" fill="#a9a9a9"/>
<circle cx="1139.9" cy="801.7" r="11.4" fill="#a9a9a9"/>
<circle cx="1139.9" cy="878.6" r="11.4" fill="#a9a9a9"/>
<circle cx="1105.9" cy="907.4" r="11.4" fill="#a9a9a9"/>
</g>
<g class="pt">
<circle cx="1268.4" cy="735.8" r="11.4" fill="#fff"/>
<circle cx="1250.6" cy="767.7" r="11.4" fill="#fff"/>
<circle cx="1243.2" cy="770.6" r="11.4" fill="#fff"/>
<circle cx="1284.6" cy="767.9" r="11.4" fill="#fff"/>
<circle cx="1293.8" cy="779.6" r="11.4" fill="#fff"/>
<circle cx="1259.6" cy="784.2" r="11.4" fill="#fff"/>
<circle cx="1276.4" cy="787.2" r="11.4" fill="#fff"/>
<circle cx="1237.1" cy="802.9" r="11.4" fill="#fff"/>
<circle cx="1268.4" cy="830.5" r="11.4" fill="#fff"/>
<circle cx="1237.1" cy="863.1" r="11.4" fill="#fff"/>
<circle cx="1299.7" cy="855.6" r="11.4" fill="#fff"/>
<circle cx="1268.4" cy="878.6" r="11.4" fill="#fff"/>
<circle cx="1268.4" cy="930.2" r="11.4" fill="#fff"/>
</g>
<g class="ln">
<line x1="1268.4" y1="757.9" x2="1268.4" y2="863.8" stroke-width="3.6"/>
<line x1="1220.3" y1="811.7" x2="1316" y2="811.7" stroke-width="3.6"/>
<line x1="1242" y1="757.9" x2="1294.7" y2="757.9" stroke-width="3.6"/>
<line x1="1242" y1="863.8" x2="1294.7" y2="863.8" stroke-width="3.6"/>
</g>
<g class="ln">
<path d="M1064.8 579 H1050 V1016.7 H1354" stroke-width="3.7"/>
<line x1="1050" y1="633.71" x2="1064.8" y2="633.71" stroke-width="3.7"/>
<line x1="1050" y1="688.42" x2="1064.8" y2="688.42" stroke-width="3.7"/>
<line x1="1050" y1="743.14" x2="1064.8" y2="743.14" stroke-width="3.7"/>
<line x1="1050" y1="797.85" x2="1064.8" y2="797.85" stroke-width="3.7"/>
<line x1="1050" y1="852.56" x2="1064.8" y2="852.56" stroke-width="3.7"/>
<line x1="1050" y1="907.28" x2="1064.8" y2="907.28" stroke-width="3.7"/>
<line x1="1050" y1="961.99" x2="1064.8" y2="961.99" stroke-width="3.7"/>
<line x1="1122.6" y1="1016.7" x2="1122.6" y2="1004.2" stroke-width="4"/>
<line x1="1268.4" y1="1016.7" x2="1268.4" y2="1004.2" stroke-width="4"/>
</g>
<text font-size="32.6"><tspan x="998.69" y="590.3" textLength="17.51" lengthAdjust="spacingAndGlyphs">4</tspan><tspan x="1018.39" y="590.3" textLength="17.51" lengthAdjust="spacingAndGlyphs">0</tspan></text>
<text font-size="32.6"><tspan x="998.69" y="645.01" textLength="17.51" lengthAdjust="spacingAndGlyphs">3</tspan><tspan x="1018.39" y="645.01" textLength="17.51" lengthAdjust="spacingAndGlyphs">0</tspan></text>
<text font-size="32.6"><tspan x="998.69" y="699.72" textLength="17.51" lengthAdjust="spacingAndGlyphs">2</tspan><tspan x="1018.39" y="699.72" textLength="17.51" lengthAdjust="spacingAndGlyphs">0</tspan></text>
<text font-size="32.6"><tspan x="999.69" y="754.44" textLength="17.51" lengthAdjust="spacingAndGlyphs">1</tspan><tspan x="1018.39" y="754.44" textLength="17.51" lengthAdjust="spacingAndGlyphs">0</tspan></text>
<text font-size="32.6"><tspan x="1018.39" y="809.15" textLength="17.51" lengthAdjust="spacingAndGlyphs">0</tspan></text>
<text font-size="32.6"><tspan x="980.58" y="865.86" textLength="19.99" lengthAdjust="spacingAndGlyphs">−</tspan><tspan x="999.69" y="863.86" textLength="17.51" lengthAdjust="spacingAndGlyphs">1</tspan><tspan x="1018.39" y="863.86" textLength="17.51" lengthAdjust="spacingAndGlyphs">0</tspan></text>
<text font-size="32.6"><tspan x="980.58" y="920.58" textLength="19.99" lengthAdjust="spacingAndGlyphs">−</tspan><tspan x="998.69" y="918.58" textLength="17.51" lengthAdjust="spacingAndGlyphs">2</tspan><tspan x="1018.39" y="918.58" textLength="17.51" lengthAdjust="spacingAndGlyphs">0</tspan></text>
<text font-size="32.6"><tspan x="980.58" y="975.29" textLength="19.99" lengthAdjust="spacingAndGlyphs">−</tspan><tspan x="998.69" y="973.29" textLength="17.51" lengthAdjust="spacingAndGlyphs">3</tspan><tspan x="1018.39" y="973.29" textLength="17.51" lengthAdjust="spacingAndGlyphs">0</tspan></text>
<text font-size="32.6"><tspan x="980.58" y="1030" textLength="19.99" lengthAdjust="spacingAndGlyphs">−</tspan><tspan x="998.69" y="1028" textLength="17.51" lengthAdjust="spacingAndGlyphs">4</tspan><tspan x="1018.39" y="1028" textLength="17.51" lengthAdjust="spacingAndGlyphs">0</tspan></text>
<text transform="translate(0 590.1)"><tspan x="915.7" y="-2.4" font-size="29.6" textLength="8.53" lengthAdjust="spacingAndGlyphs">(</tspan><tspan x="926.93" y="0" font-size="32.5" textLength="19.1" lengthAdjust="spacingAndGlyphs">d</tspan><tspan x="948.9" y="-2.4" font-size="29.6" textLength="7.34" lengthAdjust="spacingAndGlyphs">)</tspan></text>
<text transform="translate(943.6 0) rotate(-90)"><tspan class="dl" x="-871.63" y="0" font-size="33" textLength="21.25" lengthAdjust="spacingAndGlyphs">Δ</tspan><tspan x="-849.95" y="0" font-size="34" textLength="63.79" lengthAdjust="spacingAndGlyphs">SFA</tspan><tspan x="-781" y="0" font-size="10"> </tspan><tspan x="-775.03" y="-2.3" font-size="29.6" textLength="8.05" lengthAdjust="spacingAndGlyphs">(</tspan><tspan x="-763.98" y="0" font-size="34" textLength="27.81" lengthAdjust="spacingAndGlyphs">%</tspan><tspan x="-732.1" y="-2.3" font-size="29.6" textLength="7.46" lengthAdjust="spacingAndGlyphs">)</tspan></text>
<text transform="translate(1101.77 1059) scale(0.92 1)" font-size="34.5">BR</text>
<text transform="translate(1060.42 1099.6) scale(1.05 1)" font-size="32.8">8 weeks</text>
<text transform="translate(1242.1 1059) scale(0.94 1)" font-size="34.5">WR</text>
<text transform="translate(1205.63 1099.6) scale(1.05 1)" font-size="32.8">8 weeks</text>
</g>
<g id="dR">
<g class="ln">
<line x1="1503.3" y1="797.85" x2="1803" y2="797.85" stroke-width="5.8"/>
<line x1="1575.6" y1="797.85" x2="1575.6" y2="809.45" stroke-width="5.2"/>
<line x1="1721.6" y1="797.85" x2="1721.6" y2="809.45" stroke-width="5.2"/>
</g>
<g class="ln">
<line x1="1575.6" y1="674.5" x2="1575.6" y2="943.2" stroke-width="3.6"/>
<line x1="1528.3" y1="808.5" x2="1624" y2="808.5" stroke-width="3.6"/>
</g>
<g class="pt">
<circle cx="1575.6" cy="605.6" r="11.4" fill="#fff"/>
<circle cx="1575.6" cy="774.9" r="11.4" fill="#fff"/>
<circle cx="1558.4" cy="834.8" r="11.4" fill="#fff"/>
<circle cx="1593.2" cy="859.3" r="11.4" fill="#fff"/>
<circle cx="1575.6" cy="970" r="11.4" fill="#fff"/>
</g>
<g class="pt">
<circle cx="1753" cy="693.3" r="11.4" fill="#a9a9a9"/>
<circle cx="1690.3" cy="715.8" r="11.4" fill="#a9a9a9"/>
<circle cx="1739.2" cy="725.3" r="11.4" fill="#a9a9a9"/>
<circle cx="1721.1" cy="719" r="11.4" fill="#a9a9a9"/>
<circle cx="1704.1" cy="757.9" r="11.4" fill="#a9a9a9"/>
<circle cx="1690.3" cy="785.4" r="11.4" fill="#a9a9a9"/>
<circle cx="1753" cy="783.7" r="11.4" fill="#a9a9a9"/>
<circle cx="1721.1" cy="798" r="11.4" fill="#a9a9a9"/>
<circle cx="1690.3" cy="871.3" r="11.4" fill="#a9a9a9"/>
<circle cx="1753" cy="878.6" r="11.4" fill="#a9a9a9"/>
<circle cx="1721.1" cy="893.9" r="11.4" fill="#a9a9a9"/>
</g>
<g class="ln">
<line x1="1721.6" y1="713.4" x2="1721.6" y2="854.8" stroke-width="3.6"/>
<line x1="1674" y1="784.2" x2="1768.7" y2="784.2" stroke-width="3.6"/>
<line x1="1696.6" y1="713.4" x2="1746.7" y2="713.4" stroke-width="3.6"/>
<line x1="1696.6" y1="854.8" x2="1746.7" y2="854.8" stroke-width="3.6"/>
</g>
<g class="ln">
<path d="M1515.8 579 H1503.3 V1016.7 H1806.8" stroke-width="3.7"/>
<line x1="1503.3" y1="633.71" x2="1515.8" y2="633.71" stroke-width="3.7"/>
<line x1="1503.3" y1="688.42" x2="1515.8" y2="688.42" stroke-width="3.7"/>
<line x1="1503.3" y1="743.14" x2="1515.8" y2="743.14" stroke-width="3.7"/>
<line x1="1503.3" y1="797.85" x2="1515.8" y2="797.85" stroke-width="3.7"/>
<line x1="1503.3" y1="852.56" x2="1515.8" y2="852.56" stroke-width="3.7"/>
<line x1="1503.3" y1="907.28" x2="1515.8" y2="907.28" stroke-width="3.7"/>
<line x1="1503.3" y1="961.99" x2="1515.8" y2="961.99" stroke-width="3.7"/>
<line x1="1575.6" y1="1016.7" x2="1575.6" y2="1004.2" stroke-width="4"/>
<line x1="1721.6" y1="1016.7" x2="1721.6" y2="1004.2" stroke-width="4"/>
</g>
<text font-size="32.6"><tspan x="1450.19" y="590.3" textLength="17.51" lengthAdjust="spacingAndGlyphs">4</tspan><tspan x="1469.89" y="590.3" textLength="17.51" lengthAdjust="spacingAndGlyphs">0</tspan></text>
<text font-size="32.6"><tspan x="1450.19" y="645.01" textLength="17.51" lengthAdjust="spacingAndGlyphs">3</tspan><tspan x="1469.89" y="645.01" textLength="17.51" lengthAdjust="spacingAndGlyphs">0</tspan></text>
<text font-size="32.6"><tspan x="1450.19" y="699.72" textLength="17.51" lengthAdjust="spacingAndGlyphs">2</tspan><tspan x="1469.89" y="699.72" textLength="17.51" lengthAdjust="spacingAndGlyphs">0</tspan></text>
<text font-size="32.6"><tspan x="1451.19" y="754.44" textLength="17.51" lengthAdjust="spacingAndGlyphs">1</tspan><tspan x="1469.89" y="754.44" textLength="17.51" lengthAdjust="spacingAndGlyphs">0</tspan></text>
<text font-size="32.6"><tspan x="1469.89" y="809.15" textLength="17.51" lengthAdjust="spacingAndGlyphs">0</tspan></text>
<text font-size="32.6"><tspan x="1432.08" y="865.86" textLength="19.99" lengthAdjust="spacingAndGlyphs">−</tspan><tspan x="1451.19" y="863.86" textLength="17.51" lengthAdjust="spacingAndGlyphs">1</tspan><tspan x="1469.89" y="863.86" textLength="17.51" lengthAdjust="spacingAndGlyphs">0</tspan></text>
<text font-size="32.6"><tspan x="1432.08" y="920.58" textLength="19.99" lengthAdjust="spacingAndGlyphs">−</tspan><tspan x="1450.19" y="918.58" textLength="17.51" lengthAdjust="spacingAndGlyphs">2</tspan><tspan x="1469.89" y="918.58" textLength="17.51" lengthAdjust="spacingAndGlyphs">0</tspan></text>
<text font-size="32.6"><tspan x="1432.08" y="975.29" textLength="19.99" lengthAdjust="spacingAndGlyphs">−</tspan><tspan x="1450.19" y="973.29" textLength="17.51" lengthAdjust="spacingAndGlyphs">3</tspan><tspan x="1469.89" y="973.29" textLength="17.51" lengthAdjust="spacingAndGlyphs">0</tspan></text>
<text font-size="32.6"><tspan x="1432.08" y="1030" textLength="19.99" lengthAdjust="spacingAndGlyphs">−</tspan><tspan x="1450.19" y="1028" textLength="17.51" lengthAdjust="spacingAndGlyphs">4</tspan><tspan x="1469.89" y="1028" textLength="17.51" lengthAdjust="spacingAndGlyphs">0</tspan></text>
<text transform="translate(1548.3 1059) scale(0.97 1)" font-size="34.5">WR</text>
<text transform="translate(1512.41 1099.6) scale(1.06 1)" font-size="32.8">8 weeks</text>
<text transform="translate(1697.84 1059) scale(0.93 1)" font-size="34.5">BR</text>
<text transform="translate(1657.63 1099.6) scale(1.05 1)" font-size="32.8">8 weeks</text>
</g>
</svg>
</body></html>
